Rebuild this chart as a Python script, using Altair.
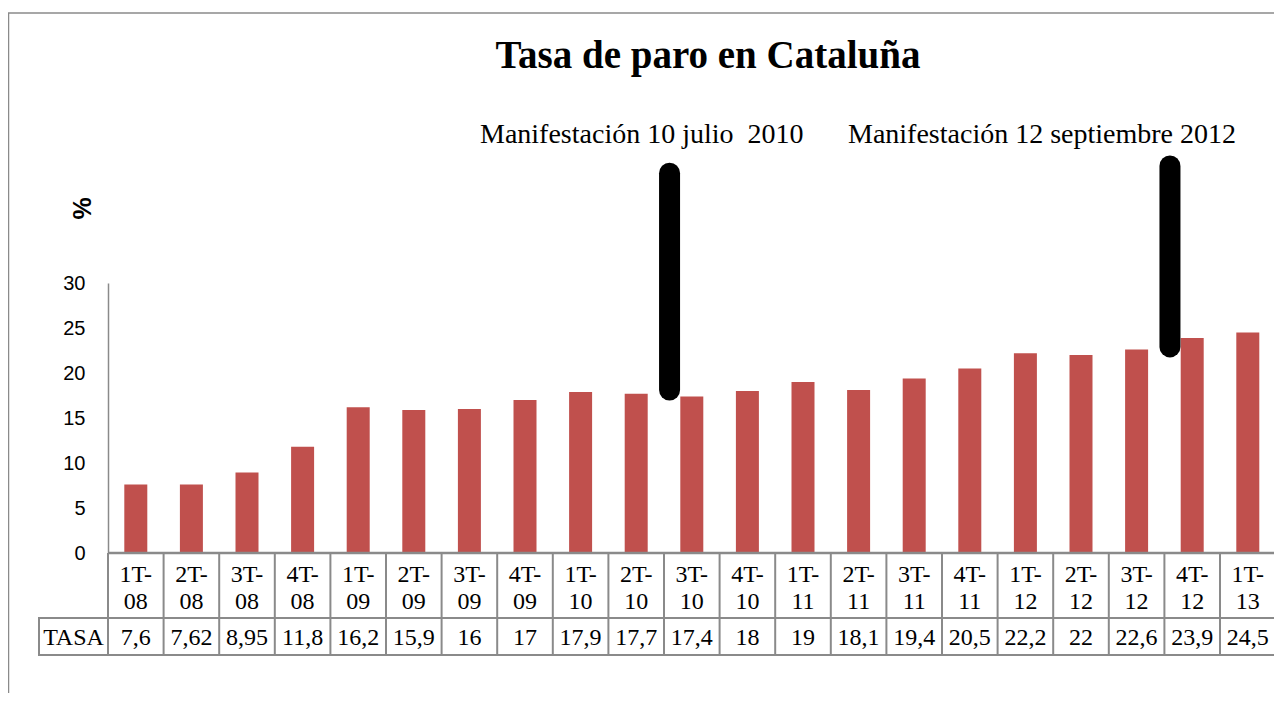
import altair as alt
import pandas as pd

# ---- data ----
categories = ["1T-08", "2T-08", "3T-08", "4T-08", "1T-09", "2T-09", "3T-09", "4T-09",
              "1T-10", "2T-10", "3T-10", "4T-10", "1T-11", "2T-11", "3T-11", "4T-11",
              "1T-12", "2T-12", "3T-12", "4T-12", "1T-13"]
tasa = [7.6, 7.62, 8.95, 11.8, 16.2, 15.9, 16, 17, 17.9, 17.7, 17.4, 18, 19, 18.1,
        19.4, 20.5, 22.2, 22, 22.6, 23.9, 24.5]
tasa_labels = ["7,6", "7,62", "8,95", "11,8", "16,2", "15,9", "16", "17", "17,9", "17,7",
               "17,4", "18", "19", "18,1", "19,4", "20,5", "22,2", "22", "22,6", "23,9", "24,5"]
y_ticks = [0, 5, 10, 15, 20, 25, 30]
title_text = "Tasa de paro en Cataluña"
row_label = "TASA"
ann_texts = ["Manifestación 10 julio\u00a0 2010", "Manifestación 12 septiembre 2012"]
ann_cats = ["3T-10", "4T-12"]      # the lines stand at the left edge of these cells
ann_low = [18.1, 22.9]
ann_high = [42.2, 43.0]

SERIF = "Liberation Serif"
SANS = "Liberation Sans"
GRAY = "#8a8a8a"

W = 1166      # visible plot width (the last cell's border runs past the edge, as in the reference)
H = 270
CELL = 55.6   # width of one category cell in px

df = pd.DataFrame({"cat": categories, "tasa": tasa, "label": tasa_labels})
df["pos"] = [categories.index(c) for c in categories]
ann_df = pd.DataFrame({"cat": ann_cats, "low": ann_low, "high": ann_high})
ann_df["pos"] = [categories.index(c) - 0.5 + 0.1 for c in ann_cats]
one = pd.DataFrame({"d": [0]})

xscale = alt.Scale(domain=[-0.5, -0.5 + W / CELL], nice=False, zero=False, padding=0)
yscale = alt.Scale(domain=[0, 30], nice=False)
yaxis = alt.Axis(values=y_ticks, labelFont=SANS, labelFontSize=20, labelColor="black",
                 ticks=False, tickSize=0, labelPadding=23, domainColor=GRAY,
                 domainWidth=1.5, grid=False, title="%", titleFont=SANS,
                 titleFontSize=25, titleFontWeight="bold", titleColor="black",
                 titleAngle=270, titleX=-26, titleY=-75, titleAlign="center",
                 titleBaseline="middle")
X = alt.X("pos:Q", scale=xscale, axis=None)

frame = alt.Chart(one).mark_rect(fillOpacity=0, stroke=GRAY, strokeWidth=1.5).encode(
    x=alt.value(-99.5), x2=alt.value(W + 200), y=alt.value(-270), y2=alt.value(H + 300))

bars = alt.Chart(df).mark_bar(color="#C0504D", width=23).encode(
    x=X, y=alt.Y("tasa:Q", scale=yscale, axis=yaxis))

ann_rules = alt.Chart(ann_df).mark_rule(color="black", strokeWidth=21, strokeCap="round").encode(
    x=X, y=alt.Y("low:Q", scale=yscale, axis=yaxis), y2="high:Q")

# data table below the axis
vlines = alt.Chart(df).transform_calculate(edge="datum.pos - 0.5").mark_rule(
    color=GRAY, strokeWidth=2).encode(
    x=alt.X("edge:Q", scale=xscale, axis=None), y=alt.value(H), y2=alt.value(372))

axis_line = alt.Chart(one).mark_rule(color=GRAY, strokeWidth=2.5).encode(
    x=alt.value(0), x2=alt.value(W + 20), y=alt.value(H))

tasa_row = alt.Chart(one).mark_rect(fillOpacity=0, stroke=GRAY, strokeWidth=2).encode(
    x=alt.value(-69), x2=alt.value(W + 20), y=alt.value(335), y2=alt.value(372))

cat_l1 = alt.Chart(df).transform_calculate(l1="slice(datum.cat, 0, 3)").mark_text(
    font=SERIF, fontSize=24, baseline="alphabetic", color="black").encode(
    x=X, y=alt.value(299), text="l1:N")

cat_l2 = alt.Chart(df).transform_calculate(l2="slice(datum.cat, 3)").mark_text(
    font=SERIF, fontSize=24, baseline="alphabetic", color="black").encode(
    x=X, y=alt.value(326), text="l2:N")

vals = alt.Chart(df).mark_text(font=SERIF, fontSize=24, baseline="alphabetic", color="black").encode(
    x=X, y=alt.value(362), text="label:N")

row_lab = alt.Chart(pd.DataFrame({"t": [row_label]})).mark_text(
    font=SERIF, fontSize=24, baseline="alphabetic", color="black").encode(
    x=alt.value(-34.5), y=alt.value(362), text="t:N")

title = alt.Chart(pd.DataFrame({"t": [title_text]})).mark_text(
    font=SERIF, fontSize=39, fontWeight="bold", baseline="alphabetic", color="black").encode(
    x=alt.value(600), y=alt.value(-215), text="t:N")

ann1 = alt.Chart(pd.DataFrame({"t": [ann_texts[0]]})).mark_text(
    font=SERIF, fontSize=28, baseline="alphabetic", align="left", color="black").encode(
    x=alt.value(372), y=alt.value(-140), text="t:N")

ann2 = alt.Chart(pd.DataFrame({"t": [ann_texts[1]]})).mark_text(
    font=SERIF, fontSize=28, baseline="alphabetic", align="left", color="black").encode(
    x=alt.value(740), y=alt.value(-140), text="t:N")

chart = alt.layer(
    frame, bars, ann_rules, vlines, tasa_row, axis_line,
    cat_l1, cat_l2, vals, row_lab, title, ann1, ann2
).properties(
    width=W, height=H,
    autosize=alt.AutoSizeParams(type="none"),
    padding={"left": 100, "top": 275, "right": 0, "bottom": 140},
    background="white",
).configure_view(strokeWidth=0)

chart.save("out.html", embed_options={"renderer": "svg", "actions": False})
